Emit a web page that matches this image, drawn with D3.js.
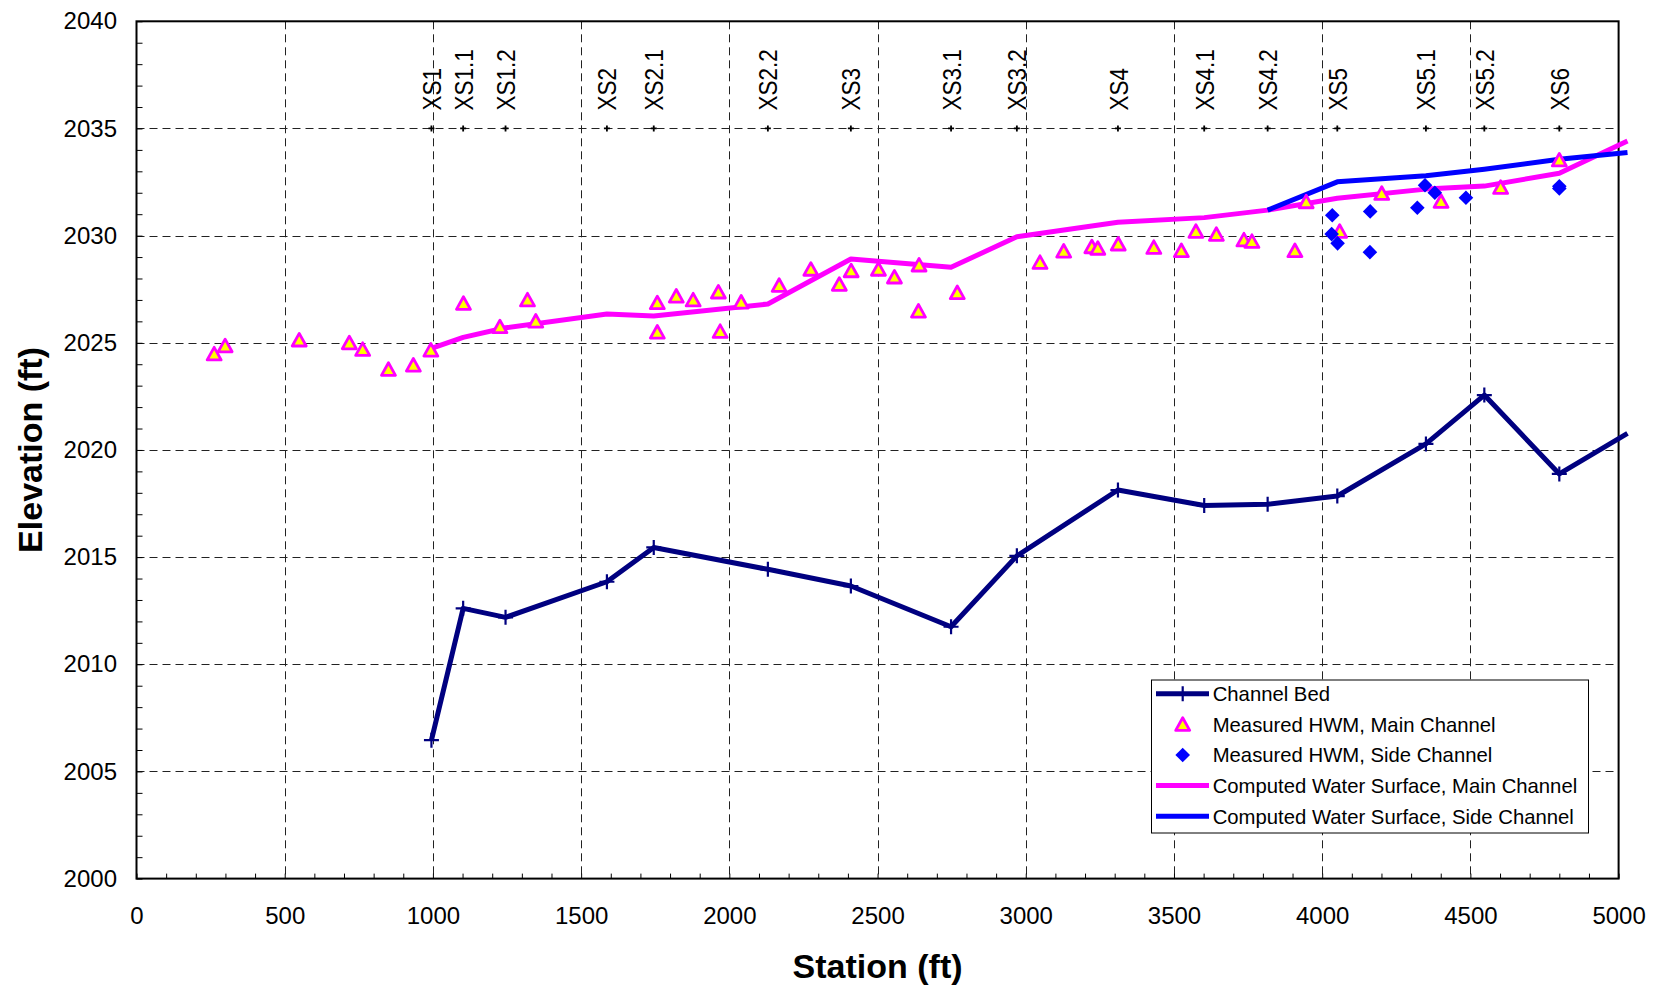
<!DOCTYPE html>
<html>
<head>
<meta charset="utf-8">
<script src="https://cdn.jsdelivr.net/npm/d3@7"></script>
<style>
  html, body { margin: 0; padding: 0; background: #fff; }
  svg { display: block; font-family: "Liberation Sans", Arial, Helvetica, sans-serif; }
</style>
</head>
<body>
<svg id="chart" width="1672" height="985"></svg>
<script>
// ---- Cross sections (station in ft) ----
const xsNames    = ["XS1","XS1.1","XS1.2","XS2","XS2.1","XS2.2","XS3","XS3.1","XS3.2","XS4","XS4.1","XS4.2","XS5","XS5.1","XS5.2","XS6"];
const xsStations = [995, 1102, 1245, 1587, 1745, 2130, 2410, 2748, 2970, 3311, 3602, 3816, 4051, 4350, 4547, 4800];
const xsMarkerElev = 2035;

// ---- Channel bed profile ----
const bedStations = [995, 1102, 1245, 1587, 1745, 2130, 2410, 2748, 2970, 3311, 3602, 3816, 4051, 4350, 4547, 4800, 5030];
const bedElev     = [2006.46, 2012.61, 2012.19, 2013.85, 2015.45, 2014.43, 2013.65, 2011.75, 2015.06, 2018.13, 2017.41, 2017.47, 2017.85, 2020.28, 2022.56, 2018.88, 2020.77];

// ---- Computed water surface, main channel ----
const wsMainStations = [995, 1102, 1245, 1587, 1745, 2130, 2410, 2748, 2970, 3311, 3602, 3816, 4051, 4350, 4547, 4800, 5030];
const wsMainElev     = [2024.74, 2025.25, 2025.70, 2026.34, 2026.25, 2026.81, 2028.91, 2028.52, 2029.95, 2030.62, 2030.84, 2031.19, 2031.74, 2032.17, 2032.31, 2032.91, 2034.41];

// ---- Computed water surface, side channel ----
const wsSideStations = [3816, 4051, 4350, 4547, 4800, 5030];
const wsSideElev     = [2031.19, 2032.51, 2032.79, 2033.10, 2033.56, 2033.88];

// ---- Measured high-water marks, main channel ----
const hwmMainStations = [262, 299, 549, 718, 763, 850, 934, 993, 1103, 1226, 1319, 1347,
                         1757, 1757, 1821, 1878, 1963, 1969, 2040, 2168, 2275, 2371, 2411, 2503, 2557, 2640, 2638, 2769,
                         3048, 3128, 3223, 3243, 3312, 3432, 3525, 3574, 3643, 3736, 3763, 3908, 3946, 4059, 4201, 4401, 4602, 4800];
const hwmMainElev     = [2024.48, 2024.86, 2025.13, 2025.00, 2024.69, 2023.76, 2023.96, 2024.66, 2026.84, 2025.75, 2027.00, 2026.01,
                         2026.87, 2025.50, 2027.18, 2027.00, 2027.37, 2025.53, 2026.90, 2027.68, 2028.43, 2027.73, 2028.36, 2028.43, 2028.07, 2028.63, 2026.48, 2027.34,
                         2028.75, 2029.28, 2029.48, 2029.41, 2029.61, 2029.45, 2029.30, 2030.20, 2030.06, 2029.80, 2029.73, 2029.30, 2031.58, 2030.20, 2031.97, 2031.60, 2032.25, 2033.53];

// ---- Measured high-water marks, side channel ----
const hwmSideStations = [4034, 4032, 4052, 4162, 4161, 4321, 4347, 4380, 4485, 4800, 4800];
const hwmSideElev     = [2030.95, 2030.07, 2029.64, 2031.13, 2029.23, 2031.30, 2032.35, 2032.00, 2031.77, 2032.30, 2032.20];

// ---- Axis ticks ----
const xMajorTicks = [0, 500, 1000, 1500, 2000, 2500, 3000, 3500, 4000, 4500, 5000];
const yMajorTicks = [2000, 2005, 2010, 2015, 2020, 2025, 2030, 2035, 2040];

const legendLabels = ["Channel Bed", "Measured HWM, Main Channel", "Measured HWM, Side Channel",
                      "Computed Water Surface, Main Channel", "Computed Water Surface, Side Channel"];

// ---- Layout ----
const W = 1672, H = 985;
const plot = { left: 136.5, right: 1618.6, top: 21.3, bottom: 878.6 };

const colors = { bed: "#000080", main: "#FF00FF", side: "#0000FF", hwmFill: "#FFFF00" };
const lineW = 5;

const svg = d3.select("#chart");
svg.append("rect").attr("width", W).attr("height", H).attr("fill", "#fff");

const x = d3.scaleLinear().domain([0, 5000]).range([plot.left, plot.right]);
const y = d3.scaleLinear().domain([2000, 2040]).range([plot.bottom, plot.top]);

// ---- Grid ----
const grid = svg.append("g").attr("stroke", "#222").attr("stroke-width", 1).attr("stroke-dasharray", "8,5");
grid.selectAll("line.v").data(xMajorTicks.filter(d => d > 0 && d < 5000)).join("line")
  .attr("x1", d => Math.round(x(d)) + 0.5).attr("x2", d => Math.round(x(d)) + 0.5)
  .attr("y1", plot.top).attr("y2", plot.bottom);
grid.selectAll("line.h").data(yMajorTicks.filter(d => d > 2000 && d < 2040)).join("line")
  .attr("x1", plot.left).attr("x2", plot.right)
  .attr("y1", d => Math.round(y(d)) + 0.5).attr("y2", d => Math.round(y(d)) + 0.5);

// ---- Minor inward ticks ----
const yMinor = d3.axisRight(y).tickValues(d3.range(2000, 2041, 1)).tickSize(6).tickFormat("");
svg.append("g").attr("transform", `translate(${plot.left},0)`).call(yMinor)
  .call(g => g.select(".domain").remove())
  .selectAll("line").attr("stroke", "#000").attr("stroke-width", 1);

const xMinor = d3.axisTop(x).tickValues(d3.range(0, 5001, 100)).tickSize(5).tickFormat("");
svg.append("g").attr("transform", `translate(0,${plot.bottom})`).call(xMinor)
  .call(g => g.select(".domain").remove())
  .selectAll("line").attr("stroke", "#000").attr("stroke-width", 1);

// ---- Tick labels ----
const yAxis = d3.axisLeft(y).tickValues(yMajorTicks).tickSize(0).tickPadding(19.5).tickFormat(d3.format("d"));
svg.append("g").attr("transform", `translate(${plot.left},0)`).call(yAxis)
  .call(g => g.select(".domain").remove())
  .selectAll("text").attr("font-size", 24).attr("font-family", "Liberation Sans, Arial, sans-serif").attr("fill", "#000");

const xAxis = d3.axisBottom(x).tickValues(xMajorTicks).tickSize(0).tickPadding(28).tickFormat(d3.format("d"));
svg.append("g").attr("transform", `translate(0,${plot.bottom})`).call(xAxis)
  .call(g => g.select(".domain").remove())
  .selectAll("text").attr("font-size", 24).attr("font-family", "Liberation Sans, Arial, sans-serif").attr("fill", "#000");

// ---- Frame ----
svg.append("rect")
  .attr("x", plot.left).attr("y", plot.top)
  .attr("width", plot.right - plot.left).attr("height", plot.bottom - plot.top)
  .attr("fill", "none").attr("stroke", "#000").attr("stroke-width", 2);

// ---- Axis titles ----
svg.append("text")
  .attr("transform", `translate(${(plot.left + plot.right) / 2},${966})`)
  .attr("text-anchor", "middle").attr("dominant-baseline", "central")
  .attr("font-size", 34).attr("font-weight", "bold").text("Station (ft)");
svg.append("text")
  .attr("transform", `translate(${30},${(plot.top + plot.bottom) / 2}) rotate(-90)`)
  .attr("text-anchor", "middle").attr("dominant-baseline", "central")
  .attr("font-size", 34).attr("font-weight", "bold").text("Elevation (ft)");

// ---- Cross-section markers and labels ----
const plusPath = s => `M${-s},0H${s}M0,${-s}V${s}`;
const xsG = svg.append("g");
xsG.selectAll("path").data(xsStations).join("path")
  .attr("d", plusPath(3))
  .attr("transform", d => `translate(${x(d)},${y(xsMarkerElev)})`)
  .attr("stroke", "#000").attr("stroke-width", 1.8);
xsG.selectAll("text").data(xsNames).join("text")
  .attr("transform", (d, i) => `translate(${x(xsStations[i])},${y(xsMarkerElev) - 18}) rotate(-90) scale(1,1.18)`)
  .attr("dy", "0.36em")
  .attr("text-anchor", "start")
  .attr("font-size", 22.5).attr("fill", "#000")
  .text(d => d);

// ---- Lines ----
const line = d3.line().x(d => x(d[0])).y(d => y(d[1]));
const zip = (a, b) => a.map((v, i) => [v, b[i]]);

svg.append("path").datum(zip(bedStations, bedElev))
  .attr("d", line).attr("fill", "none").attr("stroke", colors.bed)
  .attr("stroke-width", lineW).attr("stroke-linejoin", "round");
svg.append("g").selectAll("path").data(zip(bedStations, bedElev).slice(0, xsStations.length)).join("path")
  .attr("d", plusPath(7.5))
  .attr("transform", d => `translate(${x(d[0])},${y(d[1])})`)
  .attr("stroke", colors.bed).attr("stroke-width", 2.2);

svg.append("path").datum(zip(wsMainStations, wsMainElev))
  .attr("d", line).attr("fill", "none").attr("stroke", colors.main)
  .attr("stroke-width", lineW).attr("stroke-linejoin", "round");
svg.append("path").datum(zip(wsSideStations, wsSideElev))
  .attr("d", line).attr("fill", "none").attr("stroke", colors.side)
  .attr("stroke-width", lineW).attr("stroke-linejoin", "round");

// ---- High-water marks ----
const triPath = "M0,-6.6L7,6L-7,6Z";
const diamondPath = "M0,-7.3L7.3,0L0,7.3L-7.3,0Z";

svg.append("g").selectAll("path").data(zip(hwmMainStations, hwmMainElev)).join("path")
  .attr("d", triPath)
  .attr("transform", d => `translate(${x(d[0])},${y(d[1])})`)
  .attr("fill", colors.hwmFill).attr("stroke", colors.main).attr("stroke-width", 2.8)
  .attr("stroke-linejoin", "round");

svg.append("g").selectAll("path").data(zip(hwmSideStations, hwmSideElev)).join("path")
  .attr("d", diamondPath)
  .attr("transform", d => `translate(${x(d[0])},${y(d[1])})`)
  .attr("fill", colors.side);

// ---- Legend ----
const lg = { x: 1151, y: 679.5, w: 437, h: 153, row0: 693.8, rowStep: 30.6, lineX1: 1156, lineX2: 1209, mark: 1182.7, textX: 1212.7 };
const legend = svg.append("g");
legend.append("rect")
  .attr("x", lg.x + 0.5).attr("y", lg.y + 0.5).attr("width", lg.w).attr("height", lg.h)
  .attr("fill", "#fff").attr("stroke", "#000").attr("stroke-width", 1);

const rowY = i => lg.row0 + i * lg.rowStep;
// Channel Bed
legend.append("line").attr("x1", lg.lineX1).attr("x2", lg.lineX2).attr("y1", rowY(0)).attr("y2", rowY(0))
  .attr("stroke", colors.bed).attr("stroke-width", lineW);
legend.append("path").attr("d", plusPath(7.5)).attr("transform", `translate(${lg.mark},${rowY(0)})`)
  .attr("stroke", colors.bed).attr("stroke-width", 2.2);
// Measured HWM main
legend.append("path").attr("d", triPath).attr("transform", `translate(${lg.mark},${rowY(1)})`)
  .attr("fill", colors.hwmFill).attr("stroke", colors.main).attr("stroke-width", 2.8).attr("stroke-linejoin", "round");
// Measured HWM side
legend.append("path").attr("d", diamondPath).attr("transform", `translate(${lg.mark},${rowY(2)})`)
  .attr("fill", colors.side);
// Computed main
legend.append("line").attr("x1", lg.lineX1).attr("x2", lg.lineX2).attr("y1", rowY(3)).attr("y2", rowY(3))
  .attr("stroke", colors.main).attr("stroke-width", lineW);
// Computed side
legend.append("line").attr("x1", lg.lineX1).attr("x2", lg.lineX2).attr("y1", rowY(4)).attr("y2", rowY(4))
  .attr("stroke", colors.side).attr("stroke-width", lineW);

legend.selectAll("text").data(legendLabels).join("text")
  .attr("x", lg.textX).attr("y", (d, i) => rowY(i))
  .attr("dy", "0.36em")
  .attr("font-size", 20.3).attr("fill", "#000")
  .text(d => d);
</script>
</body>
</html>
